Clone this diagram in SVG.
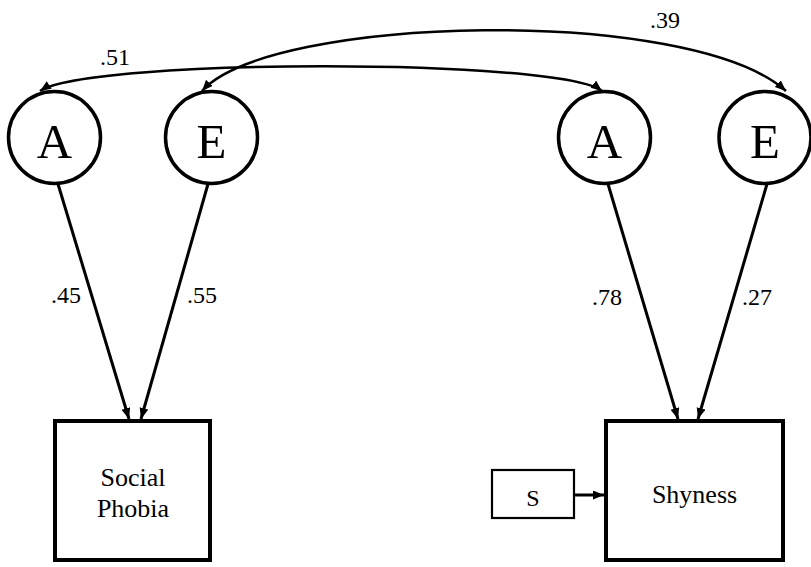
<svg xmlns="http://www.w3.org/2000/svg" width="811" height="567" viewBox="0 0 811 567">
<style>
  .circ { fill: #fff; stroke: #000; stroke-width: 3.5; }
  .box { fill: #fff; stroke: #000; stroke-width: 4; }
  .sbox { fill: #fff; stroke: #000; stroke-width: 2.2; }
  .big { font-family: "Liberation Serif", "Times New Roman", serif; font-size: 49px; text-anchor: middle; fill: #000; }
  .lbl { font-family: "Liberation Serif", "Times New Roman", serif; font-size: 24px; fill: #000; }
  .btxt { font-family: "Liberation Serif", "Times New Roman", serif; font-size: 26px; text-anchor: middle; fill: #000; }
  .arr { fill: none; stroke: #000; stroke-width: 3; marker-end: url(#ah); }
  .cov { fill: none; stroke: #000; stroke-width: 2.6; marker-start: url(#ah); marker-end: url(#ah); }
</style>
<defs>
  <marker id="ah" markerUnits="userSpaceOnUse" markerWidth="12" markerHeight="10" refX="11" refY="4.5" orient="auto-start-reverse">
    <path d="M0,0 L11,4.5 L0,9 z" fill="#000"/>
  </marker>
</defs>
<rect width="811" height="567" fill="#fff"/>
<g id="connectors">
  <path class="cov" d="M40,91 C90,58 560,58 602,91"/>
  <path class="cov" d="M202,91 C270,15 690,5 786,91"/>
  <line class="arr" x1="58" y1="184" x2="129" y2="419"/>
  <line class="arr" x1="208" y1="184" x2="141" y2="419"/>
  <line class="arr" x1="608" y1="184" x2="678" y2="419"/>
  <line class="arr" x1="767" y1="184" x2="698" y2="419"/>
  <line class="arr" x1="575" y1="495" x2="604" y2="495"/>
  <text class="lbl" x="100" y="65">.51</text>
  <text class="lbl" x="650" y="28">.39</text>
  <text class="lbl" x="51" y="303">.45</text>
  <text class="lbl" x="187" y="303">.55</text>
  <text class="lbl" x="592" y="305">.78</text>
  <text class="lbl" x="742" y="305">.27</text>
</g>
<g id="A1">
  <circle class="circ" cx="54.5" cy="137.5" r="46"/>
  <text class="big" x="54.5" y="158">A</text>
</g>
<g id="E1">
  <circle class="circ" cx="211.5" cy="137.5" r="46"/>
  <text class="big" x="211.5" y="158">E</text>
</g>
<g id="A2">
  <circle class="circ" cx="604.5" cy="137.5" r="46"/>
  <text class="big" x="604.5" y="158">A</text>
</g>
<g id="E2">
  <circle class="circ" cx="765" cy="137.5" r="46"/>
  <text class="big" x="765" y="158">E</text>
</g>
<g id="socialphobia">
  <rect class="box" x="55" y="421" width="155" height="139"/>
  <text class="btxt" x="133" y="486">Social</text>
  <text class="btxt" x="133" y="517">Phobia</text>
</g>
<g id="shyness">
  <rect class="box" x="606" y="421" width="177" height="139"/>
  <text class="btxt" x="694.5" y="503">Shyness</text>
</g>
<g id="S">
  <rect class="sbox" x="492" y="470" width="82" height="48"/>
  <text class="btxt" x="533" y="506" style="font-size:24px">S</text>
</g>
</svg>
